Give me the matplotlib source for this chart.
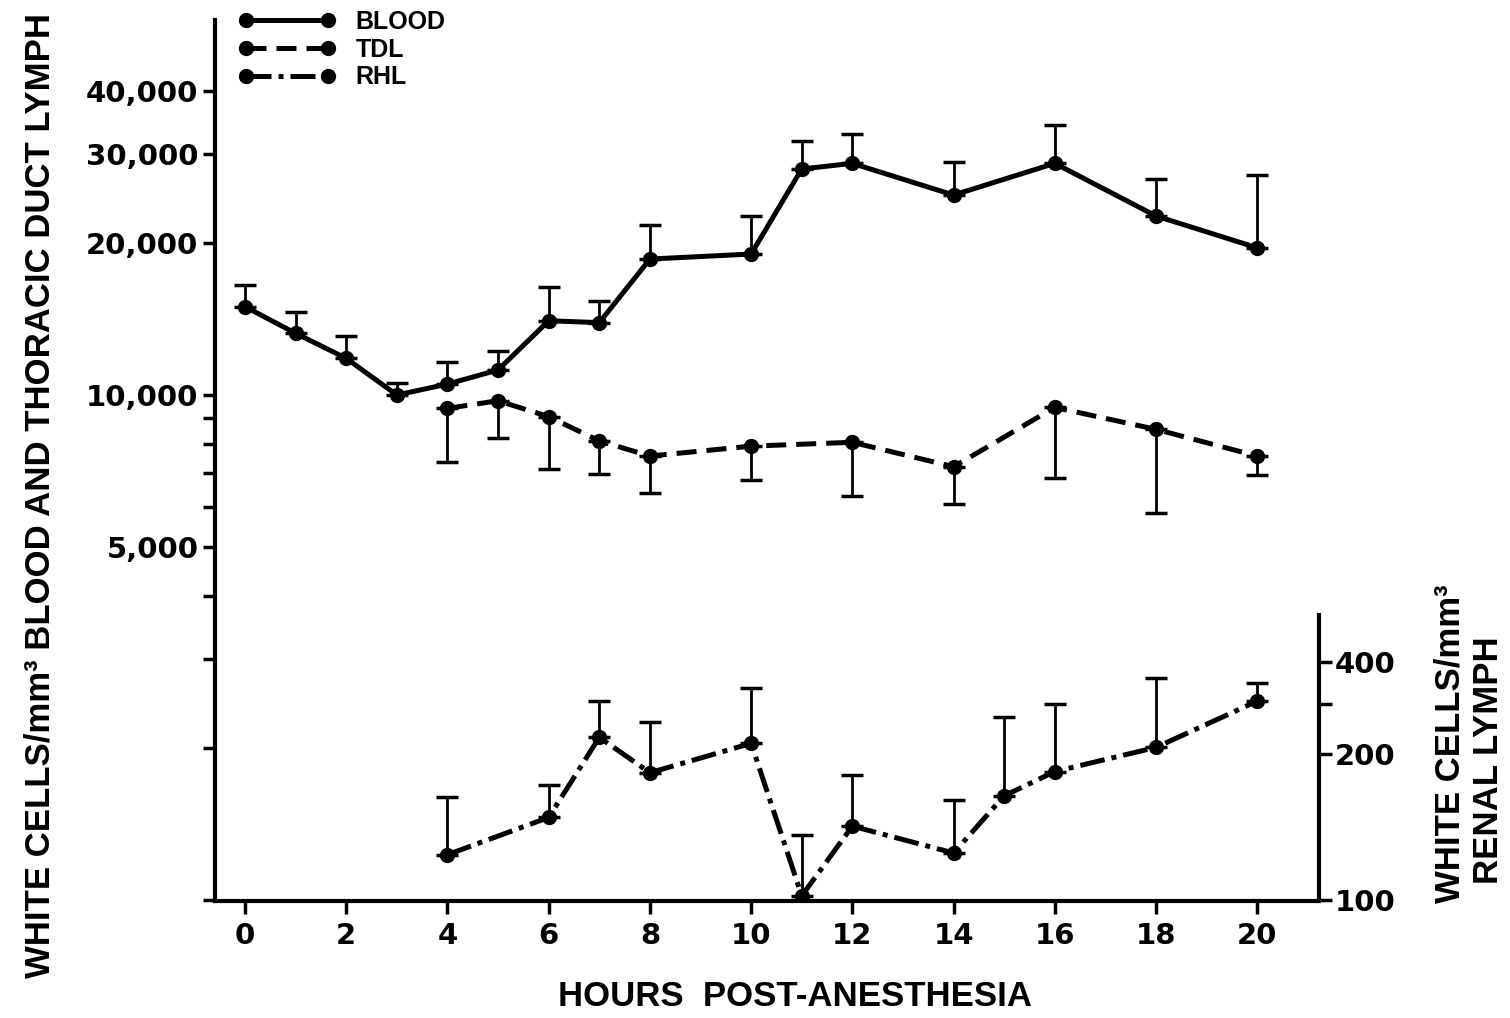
import numpy as np
import matplotlib
matplotlib.use("Agg")
import matplotlib.pyplot as plt
from matplotlib.lines import Line2D
from matplotlib import ticker

# hours post-anesthesia
blood_hours = [0, 1, 2, 3, 4, 5, 6, 7, 8, 10, 11, 12, 14, 16, 18, 20]
blood_mean = [14960, 13250, 11820, 10000, 10510, 11210, 14030, 13910, 18590, 19020,
              28030, 28760, 24890, 28760, 22620, 19570]
blood_upper = [16510, 14600, 13090, 10580, 11610, 12240, 16340, 15350, 21710, 22650,
               31840, 32870, 28900, 34300, 26740, 27270]

tdl_hours = [4, 5, 6, 7, 8, 10, 12, 14, 16, 18, 20]
tdl_mean = [9410, 9740, 9060, 8110, 7570, 7920, 8060, 7210, 9450, 8550, 7570]
tdl_lower = [7360, 8210, 7130, 6970, 6390, 6790, 6310, 6080, 6860, 5850, 6940]

rhl_hours = [4, 6, 7, 8, 10, 11, 12, 14, 15, 16, 18, 20]
rhl_mean = [124, 148, 229, 183, 218, 102, 142, 125, 164, 184, 211, 306]
rhl_upper = [163, 173, 307, 260, 334, 136, 181, 161, 271, 299, 358, 347]

left_ticks = [5000, 10000, 20000, 30000, 40000]
left_labels = ["5,000", "10,000", "20,000", "30,000", "40,000"]
left_minor = [1000, 2000, 3000, 4000, 6000, 7000, 8000, 9000]
right_ticks = [100, 200, 400]
right_labels = ["100", "200", "400"]
right_minor = [300]
x_ticks = list(range(0, 21, 2))

# the renal lymph axis as drawn is not a clean log scale:
# 100 sits at the bottom, then 200/300/400 are spaced closer
knot_vals = np.log10([100, 200, 300, 400])
knot_pos = np.array([0, 146, 196, 238.0])
lo_slope = (knot_pos[1] - knot_pos[0]) / (knot_vals[1] - knot_vals[0])
hi_slope = (knot_pos[3] - knot_pos[2]) / (knot_vals[3] - knot_vals[2])
LK = np.concatenate([[0.0], knot_vals, [8.0]])
PK = np.concatenate([[knot_pos[0] - (knot_vals[0] - 0.0) * lo_slope], knot_pos,
                     [knot_pos[3] + (8.0 - knot_vals[3]) * hi_slope]])


def fwd(v):
    v = np.clip(np.asarray(v, dtype=float), 1e-6, None)
    return np.interp(np.log10(v), LK, PK)


def inv(p):
    return 10 ** np.interp(np.asarray(p, dtype=float), PK, LK)


W, H = 1510, 1018
fig = plt.figure(figsize=(W / 100, H / 100), dpi=100)
ax = fig.add_axes([215 / W, (H - 901) / H, (1319 - 215) / W, (901 - 20) / H])

tick_font = dict(family="DejaVu Sans", weight="bold", size=21)
label_font = dict(family="Liberation Sans", weight="bold", size=25)

lw = 3.6
ms = 10

# blood
ax.plot(blood_hours, blood_mean, color="black", lw=lw, marker="o", ms=ms, zorder=3)
ax.errorbar(blood_hours, blood_mean,
            yerr=[np.zeros(len(blood_mean)), np.array(blood_upper) - np.array(blood_mean)],
            fmt="none", ecolor="black", elinewidth=2, capsize=8, capthick=2.5, zorder=2)

# thoracic duct lymph
ax.plot(tdl_hours, tdl_mean, color="black", lw=lw, marker="o", ms=ms, dashes=(4, 2), zorder=3)
ax.errorbar(tdl_hours, tdl_mean,
            yerr=[np.array(tdl_mean) - np.array(tdl_lower), np.zeros(len(tdl_mean))],
            fmt="none", ecolor="black", elinewidth=2, capsize=8, capthick=2.5, zorder=2)

ax.set_yscale("log")
ax.set_ylim(995, 55300)
ax.set_xlim(-0.593, 21.22)
ax.yaxis.set_major_locator(ticker.FixedLocator(left_ticks))
ax.yaxis.set_major_formatter(ticker.FixedFormatter(left_labels))
ax.yaxis.set_minor_locator(ticker.FixedLocator(left_minor))
ax.yaxis.set_minor_formatter(ticker.NullFormatter())
ax.set_xticks(x_ticks)
ax.set_xticklabels([str(x) for x in x_ticks])
ax.tick_params(axis="both", which="both", direction="out", length=9, width=2.5, color="black")
ax.tick_params(axis="x", pad=6)
ax.tick_params(axis="y", pad=3)
for lab in ax.get_xticklabels() + ax.get_yticklabels():
    lab.set_fontproperties(matplotlib.font_manager.FontProperties(**tick_font))
for s in ["top", "right"]:
    ax.spines[s].set_visible(False)
for s in ["left", "bottom"]:
    ax.spines[s].set_linewidth(3)

# renal lymph on its own axis
ax2 = ax.twinx()
ax2.set_yscale("function", functions=(fwd, inv))
ax2.set_ylim(inv(-1), inv(881 - 1))
ax2.plot(rhl_hours, rhl_mean, color="black", lw=lw, marker="o", ms=ms,
         dashes=(5, 1.4, 1, 1.4), zorder=3)
ax2.errorbar(rhl_hours, rhl_mean,
             yerr=[np.zeros(len(rhl_mean)), np.array(rhl_upper) - np.array(rhl_mean)],
             fmt="none", ecolor="black", elinewidth=2, capsize=8, capthick=2.5, zorder=2)
ax2.yaxis.set_major_locator(ticker.FixedLocator(right_ticks))
ax2.yaxis.set_major_formatter(ticker.FixedFormatter(right_labels))
ax2.yaxis.set_minor_locator(ticker.FixedLocator(right_minor))
ax2.yaxis.set_minor_formatter(ticker.NullFormatter())
ax2.tick_params(axis="y", which="both", direction="out", length=9, width=2.5, pad=2)
for lab in ax2.get_yticklabels():
    lab.set_fontproperties(matplotlib.font_manager.FontProperties(**tick_font))
for s in ["top", "left", "bottom"]:
    ax2.spines[s].set_visible(False)
ax2.spines["right"].set_linewidth(3)
ax2.spines["right"].set_bounds(100, inv(285))

# axis titles
fig.text(40 / W, 1 - 495 / H, "WHITE CELLS/mm³ BLOOD AND THORACIC DUCT LYMPH",
         rotation=90, ha="center", va="center", **label_font)
fig.text(795 / W, 1 - 997 / H, "HOURS  POST-ANESTHESIA", ha="center", va="center", **label_font)
fig.text(1450 / W, 1 - 744 / H, "WHITE CELLS/mm³", rotation=90, ha="center", va="center", **label_font)
fig.text(1488 / W, 1 - 760 / H, "RENAL LYMPH", rotation=90, ha="center", va="center", **label_font)

# legend
handles = [
    Line2D([], [], color="black", lw=lw, marker="o", ms=ms),
    Line2D([], [], color="black", lw=lw, marker="o", ms=ms, dashes=(4, 2)),
    Line2D([], [], color="black", lw=lw, marker="o", ms=ms, dashes=(5, 1.4, 1, 1.4)),
]
leg = fig.legend(handles, ["BLOOD", "TDL", "RHL"], loc="upper left",
                 bbox_to_anchor=(238 / W, 1 - 10 / H), frameon=False, numpoints=2,
                 handlelength=3.9, handletextpad=0.8, labelspacing=0.15,
                 borderpad=0, borderaxespad=0,
                 prop=dict(family="Liberation Sans", weight="bold", size=18))

fig.savefig("out.png", dpi=100)
